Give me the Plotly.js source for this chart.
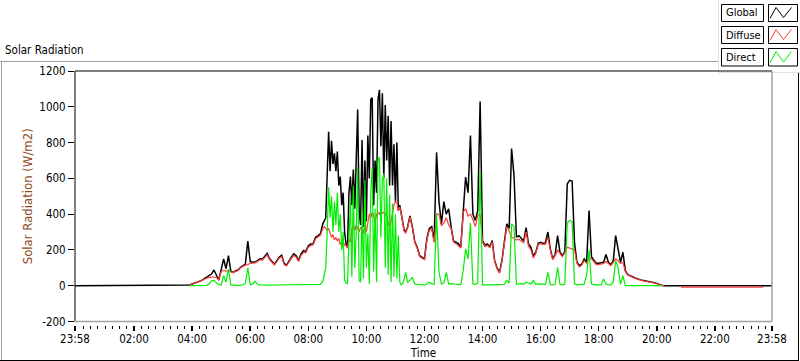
<!DOCTYPE html>
<html><head><meta charset="utf-8">
<script src="https://cdn.plot.ly/plotly-3.0.1.min.js"></script>
<style>html,body{margin:0;padding:0;background:#fff;}#chart{width:800px;height:361px;}</style>
</head><body><div id="chart"></div>
<script>
// ---- data ----
const times = [
 "23:58","03:50","03:55",
 "04:00","04:05","04:10","04:15","04:20","04:25","04:30","04:35","04:40","04:45","04:50","04:55",
 "05:00","05:05","05:10","05:15","05:20","05:25","05:30","05:35","05:40","05:45","05:50","05:55",
 "06:00","06:05","06:10","06:15","06:20","06:25","06:30","06:35","06:40","06:45","06:50","06:55",
 "07:00","07:05","07:10","07:15","07:20","07:25","07:30","07:35","07:40","07:45","07:50","07:55",
 "08:00","08:05","08:10","08:15","08:20","08:25","08:30","08:33",
 "08:36","08:39","08:42","08:45","08:48","08:51","08:54","08:57","09:00","09:03",
 "09:06","09:09","09:12","09:15","09:18","09:21","09:24","09:27","09:30","09:33",
 "09:36","09:39","09:42","09:45","09:48","09:51","09:54","09:57","10:00","10:03",
 "10:06","10:09","10:12","10:15","10:18","10:21","10:24","10:27","10:30","10:33",
 "10:36","10:39","10:42","10:45","10:48","10:51","10:54","10:57","11:00","11:03",
 "11:06","11:09","11:12","11:15","11:18","11:21",
 "11:25","11:30","11:35","11:40","11:45","11:50","11:55",
 "12:00","12:05","12:10","12:15","12:20","12:25","12:30","12:35","12:40","12:45","12:50","12:55",
 "13:00","13:05","13:10","13:15","13:20","13:25","13:30","13:35","13:40","13:45","13:50","13:55",
 "14:00","14:05","14:10","14:15","14:20","14:25","14:30","14:35","14:40","14:45","14:50","14:55",
 "15:00","15:05","15:10","15:15","15:20","15:25","15:30","15:35","15:40","15:45","15:50","15:55",
 "16:00","16:05","16:10","16:15","16:20","16:25","16:30","16:35","16:40","16:45","16:50","16:55",
 "17:00","17:05","17:10","17:15","17:20","17:25","17:30","17:35","17:40","17:45","17:50","17:55",
 "18:00","18:05","18:10","18:15","18:20","18:25","18:30","18:35","18:40","18:45","18:50","18:55",
 "19:00","19:05","19:10","19:15","19:20","19:25","19:30","19:35","19:40","19:45","19:50","19:55",
 "20:00","20:05","20:10","20:15",
 "20:48","20:50","23:40","23:42","23:58"
];

const globalRad = [
 0,0,4,
 10,14,19,25,30,40,47,55,65,88,55,32,
 90,150,95,168,80,75,84,88,103,112,121,250,
 135,131,132,140,150,148,165,180,150,136,121,140,
 160,170,125,115,140,160,178,168,140,178,196,192,
 224,233,235,271,280,290,346,360,
 380,620,860,640,810,680,740,640,750,560,
 610,450,520,300,230,215,520,610,450,650,
 430,700,985,420,340,815,330,700,360,840,
 600,1040,1050,450,700,520,1040,1095,780,1075,
 600,1010,700,950,560,920,560,790,470,800,
 420,450,400,350,310,300,
 327,390,330,245,215,168,159,
 150,265,320,330,250,745,470,346,470,400,430,330,
 250,243,235,215,420,607,520,840,400,365,420,1030,
 252,225,233,218,252,140,100,75,140,240,346,320,
 767,617,271,280,262,250,325,233,215,165,187,237,
 243,237,240,300,206,150,174,280,187,168,192,570,
 589,585,240,131,112,121,150,131,420,163,143,125,
 125,126,131,174,131,118,138,280,200,131,187,84,
 62,54,50,43,37,34,30,28,24,22,19,17,
 13,7,2,0,
 0,0,0,0,0
];

const diffuseRad = [
 null,null,3,
 10,14,19,25,30,38,42,45,48,50,45,32,
 80,85,82,85,78,73,80,85,100,108,115,118,
 125,126,128,136,145,143,160,172,145,130,116,134,
 155,163,118,110,133,153,170,160,135,170,185,185,
 215,225,228,262,272,282,320,330,
 320,310,320,290,270,285,255,270,250,265,
 230,245,215,235,220,210,260,245,320,335,
 310,340,320,300,325,330,290,340,300,350,
 400,380,410,395,350,400,410,400,420,405,
 410,400,390,350,330,360,420,450,470,465,
 420,440,400,345,305,295,
 322,385,325,240,210,163,154,
 145,255,310,320,240,400,400,335,350,380,340,320,
 245,235,225,210,410,430,390,400,370,330,390,400,
 245,218,226,212,245,135,95,70,135,230,330,305,
 270,265,255,260,250,240,300,220,200,155,180,230,
 235,230,232,270,200,145,168,200,180,162,185,215,
 210,205,200,125,105,115,140,125,160,150,135,118,
 118,120,125,135,125,112,130,150,140,125,130,80,
 60,52,48,41,35,32,28,26,22,20,17,15,
 11,5,1,0,
 null,-8,-8,null,null
];

const directRad = [
 null,null,0,
 0,0,0,0,0,0,2,10,28,30,18,5,
 5,56,20,93,5,3,2,2,3,4,15,100,
 6,10,25,8,5,4,6,5,4,3,4,4,
 4,4,4,4,4,4,4,4,4,4,4,5,
 5,5,5,5,5,8,25,60,
 100,300,550,380,500,300,470,340,520,300,
 400,200,300,30,15,9,270,490,50,560,
 100,300,660,30,20,420,40,590,100,290,
 10,520,660,80,430,20,700,720,270,590,
 626,100,600,60,510,20,460,50,400,40,
 280,20,5,10,40,75,
 20,30,47,10,8,6,5,
 5,8,20,10,8,400,75,10,15,75,10,12,
 8,8,6,6,84,206,150,350,10,8,15,640,
 5,6,5,8,5,5,5,5,5,8,30,15,
 346,330,8,10,12,8,20,15,10,30,8,10,
 8,10,8,75,6,5,8,103,8,5,8,350,
 365,360,10,5,5,5,9,60,200,9,5,5,
 5,5,37,10,5,5,20,140,100,8,56,0,
 0,0,0,0,0,0,0,0,0,0,0,0,
 0,0,0,null,
 null,null,null,null,null
];

const seriesNames = ["Global","Diffuse","Direct"];
const seriesColors = ["#000000","#ff3b3b","#00ee00"];
const xTickLabels = ["23:58","02:00","04:00","06:00","08:00","10:00","12:00","14:00","16:00","18:00","20:00","22:00","23:58"];
const yTickVals = [-200,0,200,400,600,800,1000,1200];
const yTickText = ["-200","0","200","400","600","800","1000","1200"];

// ---- build ----
const DAY0 = "2024-01-01 ", DAY1 = "2024-01-02 ";
const xs = times.map((t,i)=> (i===0 ? DAY0 : DAY1) + t);
const xTickVals = xTickLabels.map((t,i)=> (i===0 ? DAY0 : DAY1) + t);

const FONT = "'DejaVu Sans Condensed', 'Liberation Sans', Arial, sans-serif";
const FS = 11.5;

const series = [globalRad, diffuseRad, directRad];
const widths = [1.5, 1.2, 1.2];
const traces = series.map((ys,i)=>({
  type:'scatter', mode:'lines', x: xs, y: ys, name: seriesNames[i],
  line:{color: seriesColors[i], width: widths[i]}, connectgaps:false,
  hoverinfo:'skip', showlegend:false
}));

// pixel helpers for decorations (paper coordinates)
const PL = 75, PR = 772, PT = 71, PB = 325;
const px = v => (v - PL)/(PR - PL);
const py = v => (PB - v)/(PB - PT);
const yDomBottom = 3.5/(PB - PT);

const shapes = [];
function ln(x0,y0,x1,y1,color,w){ shapes.push({type:'line',xref:'paper',yref:'paper',x0:px(x0),y0:py(y0),x1:px(x1),y1:py(y1),line:{color:color,width:w||1},layer:'above'}); }
// outer frame
ln(0,61.5,718,61.5,'#a0a0a0');
ln(1.5,61.5,1.5,360.5,'#a0a0a0');
ln(0,360.5,799,360.5,'#000');
ln(798.5,72,798.5,360.5,'#000');
// legend panel edge
ln(718.5,0,718.5,72.5,'#e2e2e2');
ln(718.5,72.5,800,72.5,'#e2e2e2');
// plot frame
shapes.push({type:'line',xref:'paper',yref:'y domain',x0:0,x1:1,y0:1,y1:1,line:{color:'#000',width:1},layer:'above'});
shapes.push({type:'line',xref:'paper',yref:'y domain',x0:0,x1:0,y0:0,y1:1,line:{color:'#000',width:1},layer:'above'});
shapes.push({type:'line',xref:'paper',yref:'y domain',x0:1,x1:1,y0:0,y1:1,line:{color:'#a0a0a0',width:1.5},layer:'above'});
shapes.push({type:'line',xref:'paper',yref:'y domain',x0:0,x1:1,y0:0,y1:0,line:{color:'#a0a0a0',width:1.5},layer:'above'});

// custom legend
const annotations = [];
const legRows = [[4.5,21.5],[26.5,43.5],[48.5,66]];
legRows.forEach((r,i)=>{
  const [t,b] = r;
  shapes.push({type:'rect',xref:'paper',yref:'paper',x0:px(721.5),x1:px(763.5),y0:py(b),y1:py(t),line:{color:'#000',width:1},fillcolor:'#fff',layer:'above'});
  shapes.push({type:'rect',xref:'paper',yref:'paper',x0:px(768.5),x1:px(797.5),y0:py(b),y1:py(t),line:{color:'#000',width:1},fillcolor:'#fff',layer:'above'});
  const pts = [[770,b-3],[776,t+3],[783.5,b-4],[791.5,t+3]];
  const d = pts.map((p,k)=>(k?'L':'M')+px(p[0])+','+py(p[1])).join(' ');
  shapes.push({type:'path',xref:'paper',yref:'paper',path:d,line:{color:seriesColors[i],width:1},layer:'above'});
  annotations.push({xref:'paper',yref:'paper',x:px(723.5),y:py((t+b)/2),xanchor:'left',yanchor:'middle',text:seriesNames[i],showarrow:false,font:{family:FONT,size:11,color:'#000'}});
});

const layout = {
  width:800, height:361,
  margin:{l:PL, r:800-PR, t:PT, b:361-PB, pad:0},
  paper_bgcolor:'#fff', plot_bgcolor:'#fff',
  font:{family:FONT, size:FS, color:'#000'},
  title:{text:'Solar Radiation', x:5/800, xref:'container', xanchor:'left', y:1-50/361, yref:'container', yanchor:'middle', font:{family:FONT,size:FS,color:'#000'}},
  xaxis:{
    type:'date', range:[DAY0+'23:58', DAY1+'23:58'],
    tickmode:'array', tickvals:xTickVals, ticktext:xTickLabels,
    ticks:'outside', ticklen:5, tickwidth:1.5, tickcolor:'#000',
    ticklabelstandoff:-2,
    minor:{ticks:'outside', ticklen:3, tickwidth:1, tickcolor:'#000', dtick:15*60*1000, tick0:DAY0+'00:00', showgrid:false},
    showgrid:false, zeroline:false, showline:false,
    anchor:'free', position:0, fixedrange:true, automargin:false,
    tickfont:{family:FONT,size:FS,color:'#000'},
    title:{text:'Time', standoff:2, font:{family:FONT,size:FS,color:'#000'}}
  },
  yaxis:{
    range:[-200,1200], domain:[yDomBottom,1],
    tickmode:'array', tickvals:yTickVals, ticktext:yTickText,
    ticks:'outside', ticklen:6, tickwidth:1, tickcolor:'#000',
    showgrid:false, zeroline:false, showline:false, fixedrange:true, automargin:false,
    tickfont:{family:FONT,size:FS,color:'#000'},
    title:{text:'Solar Radiation (W/m2)', standoff:3, font:{family:FONT,size:13,color:'#8f4a1a'}}
  },
  shapes: shapes,
  annotations: annotations,
  showlegend:false
};

Plotly.newPlot('chart', traces, layout, {displayModeBar:false, staticPlot:true});
</script>
</body></html>
